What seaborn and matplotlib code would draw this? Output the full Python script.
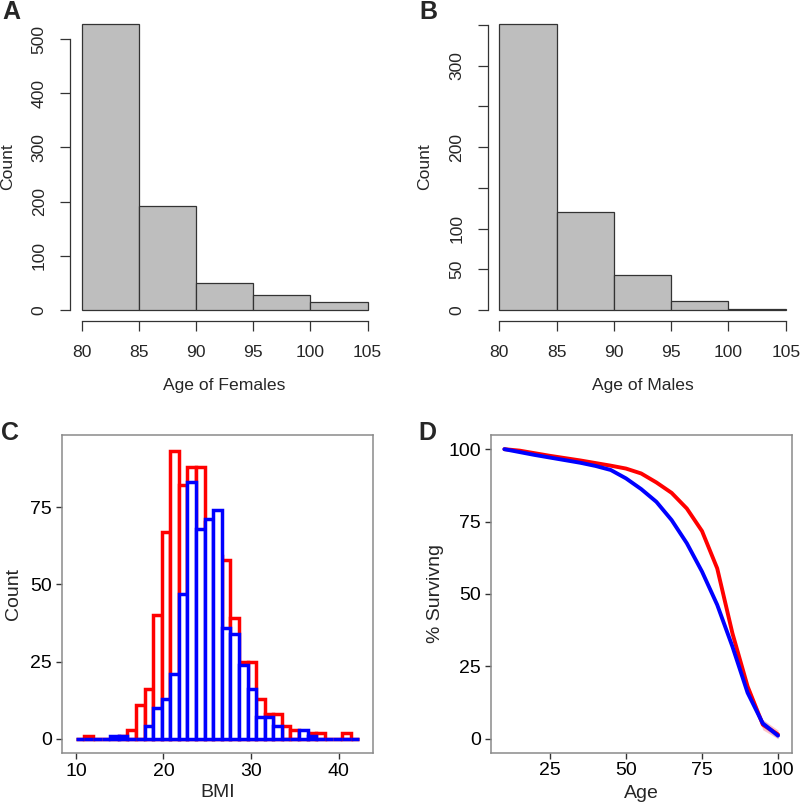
import numpy as np
import pandas as pd
import matplotlib
matplotlib.use("Agg")
import matplotlib.pyplot as plt
import seaborn as sns

# ---------------- data ----------------
age_edges = [80, 85, 90, 95, 100, 105]
female_counts = [528, 191, 50, 28, 15]
male_counts = [351, 120, 43, 11, 1]

female_yticks = [0, 100, 200, 300, 400, 500]
female_ylabels = ["0", "100", "200", "300", "400", "500"]
male_yticks = [0, 50, 100, 150, 200, 250, 300, 350]
male_ylabels = ["0", "50", "100", "", "200", "", "300", ""]

bmi_start = 10.0
bmi_width = 0.98
bmi_red = [0, 1, 0, 0, 0, 1, 3, 11, 16, 40, 67, 93, 82, 88, 88, 70, 59, 58,
           39, 25, 25, 13, 8, 8, 4, 3, 2, 2, 2, 0, 0, 2, 0]
bmi_blue = [0, 0, 0, 0, 1, 1, 0, 0, 4, 10, 13, 21, 47, 83, 68, 71, 74, 36,
            34, 24, 16, 7, 7, 4, 0, 0, 3, 1, 0, 0, 0, 0, 0]

surv_age = [10, 15, 20, 25, 30, 35, 40, 45, 50, 55, 60, 65, 70, 75, 80, 85, 90, 95, 100]
surv_red = [100, 99.5, 98.6, 97.7, 96.9, 96.1, 95.2, 94.3, 93.3, 91.6, 88.5, 84.9,
            79.5, 71.7, 58.8, 36.4, 18.0, 4.8, 1.4]
surv_blue = [100, 99.0, 98.0, 97.1, 96.2, 95.3, 94.2, 92.8, 89.9, 86.2, 81.8, 75.5,
             67.5, 57.7, 46.2, 31.8, 15.8, 5.2, 1.0]
ci_red = [0.2, 0.2, 0.2, 0.2, 0.2, 0.2, 0.2, 0.2, 0.3, 0.3, 0.3, 0.4, 0.4, 0.5,
          0.6, 0.7, 0.8, 1.8, 1.5]
ci_blue = [0.2, 0.2, 0.2, 0.2, 0.2, 0.2, 0.2, 0.2, 0.3, 0.3, 0.3, 0.4, 0.4, 0.5,
           0.6, 0.7, 0.8, 1.2, 1.0]

# ---------------- style ----------------
sns.set_style("ticks")
plt.rcParams['font.family'] = ['Liberation Sans', 'DejaVu Sans']

W, H = 800, 807
fig = plt.figure(figsize=(W / 100, H / 100), dpi=100)


def px_axes(x0, x1, y0, y1):
    return fig.add_axes([x0 / W, 1 - y1 / H, (x1 - x0) / W, (y1 - y0) / H])


def r_hist(ax, counts, yticks, ylabels, xlabel):
    centers = [(a + b) / 2 for a, b in zip(age_edges[:-1], age_edges[1:])]
    sns.histplot(x=centers, weights=counts, bins=age_edges, ax=ax,
                 color="#BEBEBE", edgecolor="#333333", linewidth=0.9, alpha=1)
    ymax = max(counts)
    ax.set_xlim(79, 106)
    ax.set_ylim(-0.04 * ymax, 1.04 * ymax)
    for s in ["top", "right"]:
        ax.spines[s].set_visible(False)
    ax.spines["bottom"].set_bounds(age_edges[0], age_edges[-1])
    ax.spines["left"].set_bounds(yticks[0], yticks[-1])
    for s in ["bottom", "left"]:
        ax.spines[s].set_color("#333333")
        ax.spines[s].set_linewidth(0.9)
    ax.set_xticks(age_edges)
    ax.set_xticklabels([str(a) for a in age_edges])
    ax.set_yticks(yticks)
    ax.set_yticklabels(ylabels, rotation=90, va="center")
    ax.tick_params(length=7, width=0.9, pad=10, labelsize=12.6, color="#333333")
    ax.set_xlabel(xlabel, fontsize=12.6, labelpad=13)
    ax.set_ylabel("Count", fontsize=12.6, labelpad=12)


axA = px_axes(70.3, 379, 12.4, 321.4)
r_hist(axA, female_counts, female_yticks, female_ylabels, "Age of Females")
axB = px_axes(487.8, 797.2, 12.7, 321.4)
r_hist(axB, male_counts, male_yticks, male_ylabels, "Age of Males")


def gg_style(ax):
    for s in ax.spines.values():
        s.set_visible(True)
        s.set_color("#8A8A8A")
        s.set_linewidth(1.1)
    ax.tick_params(length=4, width=1, color="#333333", labelsize=14, pad=3,
                   labelcolor="black")


# Panel C
axC = px_axes(61.7, 373.3, 435, 753.3)
nb = len(bmi_red)
bmi_edges = [bmi_start + i * bmi_width for i in range(nb + 1)]
bmi_centers = [bmi_start + (i + 0.5) * bmi_width for i in range(nb)]
sns.histplot(x=bmi_centers, weights=bmi_red, bins=bmi_edges, ax=axC,
             facecolor="white", edgecolor="#FF0000", linewidth=2.5, alpha=1)
sns.histplot(x=bmi_centers, weights=bmi_blue, bins=bmi_edges, ax=axC,
             facecolor="white", edgecolor="#0000FF", linewidth=2.5, alpha=1)
axC.set_xlim(8.38, 43.96)
axC.set_ylim(-4.7, 98.3)
axC.set_xticks([10, 20, 30, 40])
axC.set_yticks([0, 25, 50, 75])
gg_style(axC)
axC.set_xlabel("BMI", fontsize=14, labelpad=3)
axC.set_ylabel("Count", fontsize=14, labelpad=6)

# Panel D
axD = px_axes(490.7, 791.7, 435, 752.7)
df = pd.DataFrame({
    "Age": surv_age * 2,
    "Surv": surv_red + surv_blue,
    "CI": ci_red + ci_blue,
    "Sex": ["F"] * len(surv_age) + ["M"] * len(surv_age),
})
for sex, fc in [("F", "#FF8080"), ("M", "#8080FF")]:
    d = df[df.Sex == sex]
    axD.fill_between(d.Age, d.Surv - d.CI, d.Surv + d.CI, color=fc, alpha=0.45,
                     linewidth=0)
sns.lineplot(data=df, x="Age", y="Surv", hue="Sex",
             palette={"F": "#FF0000", "M": "#0000FF"}, linewidth=2.8,
             ax=axD, legend=False)
axD.set_xlim(5.5, 104.5)
axD.set_ylim(-4.9, 104.9)
axD.set_xticks([25, 50, 75, 100])
axD.set_yticks([0, 25, 50, 75, 100])
gg_style(axD)
axD.set_xlabel("Age", fontsize=14, labelpad=4)
axD.set_ylabel("% Survivng", fontsize=14, labelpad=3)

# Panel letters
for lbl, x, y in [("A", 2, 0), ("B", 419, 0), ("C", 1, 421), ("D", 418, 421)]:
    fig.text(x / W, 1 - y / H, lbl, fontsize=18, fontweight="bold",
             va="top", ha="left")

fig.savefig("out.png", dpi=100)
